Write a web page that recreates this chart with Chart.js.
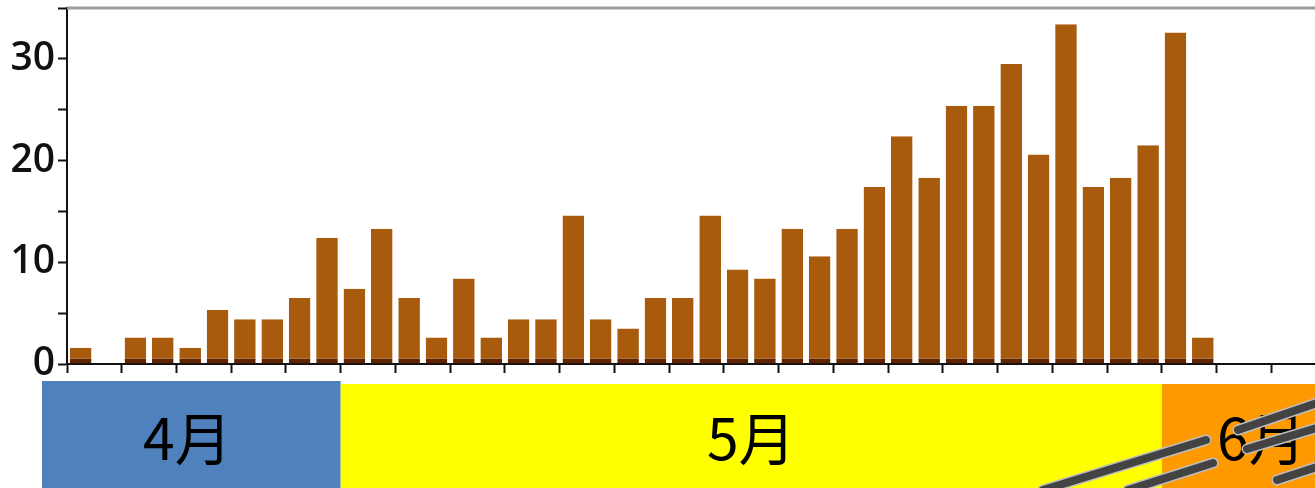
<!DOCTYPE html>
<html>
<head>
<meta charset="utf-8">
<script src="https://cdn.jsdelivr.net/npm/chart.js@4/dist/chart.umd.min.js"></script>
<style>
  html, body { margin: 0; padding: 0; background: #ffffff; overflow: hidden; }
  #wrap { position: absolute; left: 0; top: 0; width: 1326px; height: 488px; }
</style>
</head>
<body>
<div id="wrap"><canvas id="chart" width="1326" height="488"></canvas></div>
<script>
// Daily counts, 4/21 through 6/5
const days = [
  '4/21','4/22','4/23','4/24','4/25','4/26','4/27','4/28','4/29','4/30',
  '5/1','5/2','5/3','5/4','5/5','5/6','5/7','5/8','5/9','5/10',
  '5/11','5/12','5/13','5/14','5/15','5/16','5/17','5/18','5/19','5/20',
  '5/21','5/22','5/23','5/24','5/25','5/26','5/27','5/28','5/29','5/30',
  '5/31','6/1','6/2','6/3','6/4','6/5'
];
const counts = [
  1.6, 0, 2.6, 2.6, 1.6, 5.3, 4.4, 4.4, 6.5, 12.4,
  7.4, 13.3, 6.5, 2.6, 8.4, 2.6, 4.4, 4.4, 14.6, 4.4,
  3.5, 6.5, 6.5, 14.6, 9.3, 8.4, 13.3, 10.6, 13.3, 17.4,
  22.4, 18.3, 25.4, 25.4, 29.5, 20.6, 33.4, 17.4, 18.3, 21.5,
  32.6, 2.6, null, null, null, null
];
const yTickValues = [0, 10, 20, 30];
const monthNames = ['4月', '5月', '6月'];
// first category index covered by each month band
const monthBandStart = [0, 10, 40];

// Grey frame line along the top of the plot
const topFrame = {
  id: 'topFrame',
  afterDraw(chart) {
    const ctx = chart.ctx;
    const a = chart.chartArea;
    ctx.save();
    ctx.strokeStyle = '#9c9c9c';
    ctx.lineWidth = 3;
    ctx.beginPath();
    ctx.moveTo(a.left, a.top);
    ctx.lineTo(chart.width, a.top);
    ctx.stroke();
    ctx.restore();
  }
};

// Month bands under the axis, plus the grey strokes across the last band
const monthBands = {
  id: 'monthBands',
  afterDraw(chart) {
    const ctx = chart.ctx;
    const x = chart.scales.x;
    const step = x.getPixelForValue(1) - x.getPixelForValue(0);
    const edge = i => x.getPixelForValue(i) - step / 2;
    const bands = [
      { from: 42, to: edge(monthBandStart[1]), top: 381, fill: '#4F81BD' },
      { from: edge(monthBandStart[1]), to: edge(monthBandStart[2]), top: 384, fill: '#FFFF00' },
      { from: edge(monthBandStart[2]), to: 1361, top: 384, fill: '#FF9900' }
    ];
    ctx.save();
    bands.forEach((b, i) => {
      ctx.fillStyle = b.fill;
      ctx.fillRect(b.from, b.top, b.to - b.from, 488 - b.top);
      ctx.fillStyle = '#000000';
      ctx.font = '57px "Noto Sans CJK JP"';
      ctx.textAlign = 'center';
      ctx.textBaseline = 'middle';
      ctx.fillText(monthNames[i], (b.from + b.to) / 2 - (i === 0 ? 4 : 0), 438);
    });

    const strokes = [
      [1043, 490, 1206, 440],
      [1128, 490, 1213, 463],
      [1238, 430, 1320, 402],
      [1247, 449, 1320, 427],
      [1277, 480, 1320, 466]
    ];
    ctx.lineCap = 'round';
    strokes.forEach(s => {
      ctx.strokeStyle = '#bdbdbd';
      ctx.lineWidth = 11;
      ctx.beginPath(); ctx.moveTo(s[0], s[1]); ctx.lineTo(s[2], s[3]); ctx.stroke();
      ctx.strokeStyle = '#434343';
      ctx.lineWidth = 8;
      ctx.beginPath(); ctx.moveTo(s[0], s[1]); ctx.lineTo(s[2], s[3]); ctx.stroke();
    });
    ctx.restore();
  }
};

new Chart(document.getElementById('chart'), {
  type: 'bar',
  data: {
    labels: days,
    datasets: [{
      data: counts,
      backgroundColor: '#A95B0D',
      borderColor: '#5E2400',
      borderWidth: { top: 0, left: 0, right: 0, bottom: 5 },
      borderSkipped: false,
      barPercentage: 0.79,
      categoryPercentage: 1.0
    }]
  },
  options: {
    responsive: false,
    animation: false,
    devicePixelRatio: 1,
    layout: { padding: { top: 8, left: 0, right: 0, bottom: 0 } },
    plugins: { legend: { display: false }, tooltip: { enabled: false } },
    scales: {
      x: {
        offset: true,
        grid: {
          offset: true,
          drawOnChartArea: false,
          drawTicks: true,
          tickLength: 9,
          tickWidth: 2,
          tickColor: ctx => (ctx.index % 2 === 0 ? '#111111' : 'rgba(0,0,0,0)'),
          color: 'rgba(0,0,0,0)'
        },
        border: { display: true, color: '#111111', width: 2 },
        ticks: { display: false },
        afterFit(scale) { scale.height = 124; }
      },
      y: {
        min: 0,
        max: 35,
        grid: {
          drawOnChartArea: false,
          drawTicks: true,
          tickLength: 9,
          tickWidth: 2,
          tickColor: '#111111',
          color: 'rgba(0,0,0,0)'
        },
        border: { display: true, color: '#111111', width: 2 },
        ticks: {
          stepSize: 5,
          padding: 3,
          color: '#111111',
          font: { family: '"Open Sans"', size: 39, weight: '600' },
          callback: v => (yTickValues.includes(v) ? String(v) : '')
        },
        afterFit(scale) {
          scale.width = 67;
          scale.paddingTop = 0;
          scale.paddingBottom = 0;
        }
      }
    }
  },
  plugins: [topFrame, monthBands]
});
</script>
</body>
</html>
